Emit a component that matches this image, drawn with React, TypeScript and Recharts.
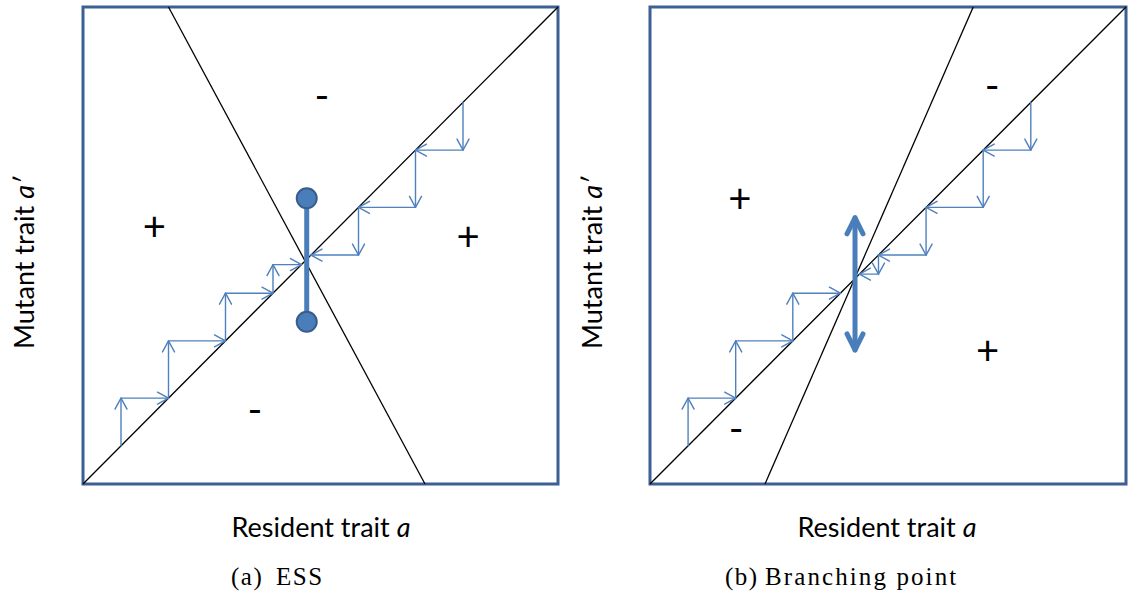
import React from 'react';
import { ComposedChart, XAxis, YAxis, ReferenceLine, ReferenceArea, Scatter } from 'recharts';

type Pt = { x: number; y: number };

const BORDER = '#3c6091';
const ARROW = '#4f81bd';
const THICK = '#4a7ebb';
const THICK_EDGE = '#385d8a';

// ---------- Panel (a): ESS ----------
const essDiagonal: Pt[] = [{ x: 0, y: 0 }, { x: 1, y: 1 }];
const essOtherLine: Pt[] = [{ x: 0.18, y: 1 }, { x: 0.72, y: 0 }];
const essLowerSteps = [0.08, 0.18, 0.3, 0.4, 0.46];
const essUpperSteps = [0.8, 0.7, 0.58, 0.48];
const essBar: Pt[] = [{ x: 0.471, y: 0.599 }, { x: 0.471, y: 0.34 }];
const essSigns = [
  { x: 0.503, y: 0.815, s: '-' },
  { x: 0.15, y: 0.54, s: '+' },
  { x: 0.811, y: 0.52, s: '+' },
  { x: 0.362, y: 0.157, s: '-' },
];

// ---------- Panel (b): Branching point ----------
const bpDiagonal: Pt[] = [{ x: 0, y: 0 }, { x: 1, y: 1 }];
const bpOtherLine: Pt[] = [{ x: 0.679, y: 1 }, { x: 0.2416, y: 0 }];
const bpLowerSteps = [0.08, 0.18, 0.3, 0.4];
const bpUpperSteps = [0.8, 0.7, 0.58, 0.48, 0.44];
const bpDoubleArrow: Pt[] = [{ x: 0.4307, y: 0.281 }, { x: 0.4307, y: 0.558 }];
const bpSigns = [
  { x: 0.189, y: 0.6, s: '+' },
  { x: 0.719, y: 0.836, s: '-' },
  { x: 0.709, y: 0.281, s: '+' },
  { x: 0.181, y: 0.118, s: '-' },
];

const xLabel = 'Resident trait ';
const yLabel = 'Mutant trait ';
const captionA = ['(a)', 'ESS'];
const captionB = ['(b)', 'Branching point'];

function stairSegments(vals: number[]): Pt[][] {
  const segs: Pt[][] = [];
  for (let i = 0; i < vals.length - 1; i++) {
    const a = vals[i];
    const b = vals[i + 1];
    segs.push([{ x: a, y: a }, { x: a, y: b }]);
    segs.push([{ x: a, y: b }, { x: b, y: b }]);
  }
  return segs;
}

function head(x1: number, y1: number, x2: number, y2: number, len: number, half: number) {
  const dx = x2 - x1;
  const dy = y2 - y1;
  const L = Math.hypot(dx, dy) || 1;
  const ux = dx / L;
  const uy = dy / L;
  const nx = -uy;
  const ny = ux;
  const bx = x2 - ux * len;
  const by = y2 - uy * len;
  return `${bx + nx * half},${by + ny * half} ${x2},${y2} ${bx - nx * half},${by - ny * half}`;
}

function ArrowShape(props: any) {
  const { x1, y1, x2, y2, color, width, len, half, both } = props;
  return (
    <g>
      <line x1={x1} y1={y1} x2={x2} y2={y2} stroke={color} strokeWidth={width} strokeLinecap="round" />
      <polyline points={head(x1, y1, x2, y2, len, half)} fill="none" stroke={color} strokeWidth={width} strokeLinecap="round" strokeLinejoin="round" />
      {both ? (
        <polyline points={head(x2, y2, x1, y1, len, half)} fill="none" stroke={color} strokeWidth={width} strokeLinecap="round" strokeLinejoin="round" />
      ) : null}
    </g>
  );
}

const SignShape = (props: any) => {
  const { cx, cy, payload } = props;
  return (
    <text x={cx} y={cy} textAnchor="middle" dominantBaseline="central" fontFamily="Lato" fontSize={40} fill="#000">
      {payload.s}
    </text>
  );
};

const DotShape = (props: any) => {
  const { cx, cy } = props;
  return <circle cx={cx} cy={cy} r={10} fill={THICK} stroke={THICK_EDGE} strokeWidth={2} />;
};

function Panel(props: any) {
  const { width, height, margin, diag, other, lower, upper, signs, bar, dots, dbl } = props;
  const segs = [...stairSegments(lower), ...stairSegments(upper)];
  return (
    <ComposedChart width={width} height={height} margin={margin}>
      <XAxis type="number" dataKey="x" domain={[0, 1]} hide allowDataOverflow />
      <YAxis type="number" dataKey="y" domain={[0, 1]} hide allowDataOverflow />
      <ReferenceArea x1={0} x2={1} y1={0} y2={1} fill="#fff" fillOpacity={0} stroke={BORDER} strokeWidth={3} ifOverflow="visible" />
      <ReferenceLine segment={diag} stroke="#000" strokeWidth={1.3} ifOverflow="visible" />
      <ReferenceLine segment={other} stroke="#000" strokeWidth={1.3} ifOverflow="visible" />
      {segs.map((s, i) => (
        <ReferenceLine
          key={i}
          segment={s}
          ifOverflow="visible"
          stroke={ARROW}
          shape={(p: any) => <ArrowShape {...p} color={ARROW} width={1.4} len={11} half={6} />}
        />
      ))}
      {bar ? <ReferenceLine segment={bar} stroke={THICK} strokeWidth={5} ifOverflow="visible" /> : null}
      {dbl ? (
        <ReferenceLine
          segment={dbl}
          ifOverflow="visible"
          stroke={THICK}
          shape={(p: any) => <ArrowShape {...p} color={THICK} width={5} len={16} half={8} both />}
        />
      ) : null}
      {dots ? <Scatter data={dots} dataKey="y" shape={DotShape} isAnimationActive={false} /> : null}
      <Scatter data={signs} dataKey="y" shape={SignShape} isAnimationActive={false} />
    </ComposedChart>
  );
}

const sans: React.CSSProperties = { position: 'absolute', fontFamily: 'Lato', fontSize: 27, lineHeight: '27px', whiteSpace: 'nowrap', color: '#000' };
const serif: React.CSSProperties = { position: 'absolute', fontFamily: '"Liberation Serif"', fontSize: 25, lineHeight: '25px', whiteSpace: 'nowrap', color: '#000', letterSpacing: 1.5, top: 564 };

function XLab({ cx }: { cx: number }) {
  return (
    <div style={{ ...sans, left: cx, top: 513, transform: 'translateX(-50%)' }}>
      {xLabel}
      <i>a</i>
    </div>
  );
}

function YLab({ cx }: { cx: number }) {
  return (
    <div style={{ ...sans, left: cx, top: 263, transform: 'translate(-50%, -50%) rotate(-90deg)' }}>
      {yLabel}
      <i>a′</i>
    </div>
  );
}

function Caption({ left, left2, parts, ls }: { left: number; left2: number; parts: string[]; ls: number }) {
  return (
    <>
      <div style={{ ...serif, left }}>{parts[0]}</div>
      <div style={{ ...serif, left: left2, letterSpacing: ls }}>{parts[1]}</div>
    </>
  );
}

export default function App() {
  return (
    <div style={{ position: 'absolute', left: 0, top: 0, width: 1128, height: 594, background: '#fff', overflow: 'hidden' }}>
      <div style={{ position: 'absolute', left: 0, top: 0 }}>
        <Panel
          width={570}
          height={500}
          margin={{ top: 7, left: 83, right: 12, bottom: 16 }}
          diag={essDiagonal}
          other={essOtherLine}
          lower={essLowerSteps}
          upper={essUpperSteps}
          signs={essSigns}
          bar={essBar}
          dots={essBar}
        />
      </div>
      <div style={{ position: 'absolute', left: 570, top: 0 }}>
        <Panel
          width={558}
          height={500}
          margin={{ top: 7, left: 80, right: 2, bottom: 16 }}
          diag={bpDiagonal}
          other={bpOtherLine}
          lower={bpLowerSteps}
          upper={bpUpperSteps}
          signs={bpSigns}
          dbl={bpDoubleArrow}
        />
      </div>
      <XLab cx={321} />
      <XLab cx={887} />
      <YLab cx={23} />
      <YLab cx={591} />
      <Caption left={231} left2={276} parts={captionA} ls={1.5} />
      <Caption left={725} left2={765} parts={captionB} ls={2.1} />
    </div>
  );
}
